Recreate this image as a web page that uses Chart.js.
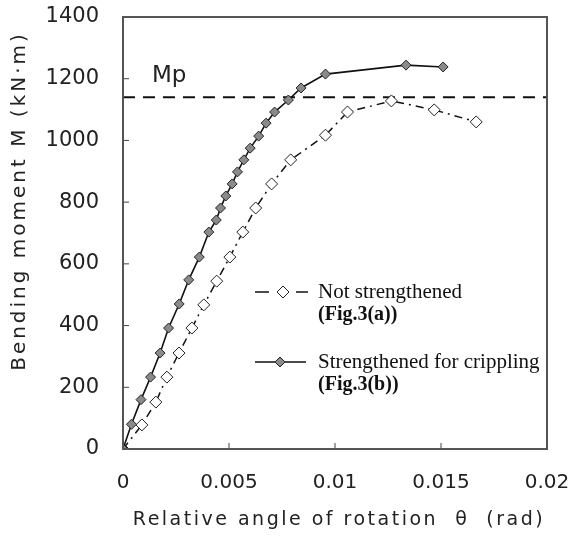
<!DOCTYPE html>
<html>
<head>
<meta charset="utf-8">
<script src="https://cdn.jsdelivr.net/npm/chart.js@4"></script>
<style>
  html, body { margin: 0; padding: 0; background: #fff; }
  #wrap { width: 582px; height: 544px; }
</style>
</head>
<body>
<div id="wrap"><canvas id="grafico"></canvas></div>
<script>
// dados
const thetaNot  = [0, 0.00089, 0.00155, 0.00207, 0.00264, 0.00325, 0.00381, 0.00442, 0.00504, 0.00565, 0.00626, 0.00701, 0.00791, 0.00955, 0.01059, 0.01266, 0.01468, 0.01666];
const momentNot = [0, 78, 152, 233, 311, 392, 467, 544, 622, 703, 781, 859, 937, 1017, 1092, 1128, 1099, 1060];

const thetaStr  = [0, 0.0004, 0.00085, 0.0013, 0.00175, 0.00215, 0.00265, 0.0031, 0.0036, 0.00405, 0.0044, 0.0046, 0.00485, 0.00515, 0.0054, 0.0057, 0.006, 0.0064, 0.00675, 0.00715, 0.0078, 0.0084, 0.00955, 0.01335, 0.0151];
const momentStr = [0, 80, 160, 233, 311, 392, 470, 548, 622, 703, 742, 781, 820, 859, 898, 937, 975, 1014, 1056, 1092, 1131, 1170, 1215, 1244, 1238];

const mpValue = 1140;   // momento plastico Mp
const xTicks = [0, 0.005, 0.01, 0.015, 0.02];
const yTicks = [0, 200, 400, 600, 800, 1000, 1200, 1400];

const legendLabels = [
  ['Not strengthened', '(Fig.3(a))'],
  ['Strengthened for crippling', '(Fig.3(b))']
];

const sans = 'DejaVu Sans';
const serif = 'Liberation Serif';

function pares(xs, ys) {
  return xs.map((x, i) => ({ x: x, y: ys[i] }));
}

// moldura, ticks internos, titulos e legenda
const extras = {
  id: 'extras',
  afterDraw(chart) {
    const ctx = chart.ctx;
    const a = chart.chartArea;
    const sx = chart.scales.x, sy = chart.scales.y;
    ctx.save();

    // ticks para dentro
    ctx.strokeStyle = '#444';
    ctx.lineWidth = 1;
    xTicks.slice(1, -1).forEach(v => {
      const px = sx.getPixelForValue(v);
      ctx.beginPath(); ctx.moveTo(px, a.bottom); ctx.lineTo(px, a.bottom - 6); ctx.stroke();
    });
    yTicks.slice(1, -1).forEach(v => {
      const py = sy.getPixelForValue(v);
      ctx.beginPath(); ctx.moveTo(a.left, py); ctx.lineTo(a.left + 6, py); ctx.stroke();
    });

    // moldura
    ctx.strokeStyle = '#555';
    ctx.lineWidth = 2;
    ctx.strokeRect(a.left, a.top, a.right - a.left, a.bottom - a.top);

    // Mp
    ctx.fillStyle = '#222';
    ctx.font = '23px "' + sans + '"';
    ctx.textAlign = 'left';
    ctx.textBaseline = 'middle';
    ctx.fillText('Mp', 152, 76);

    // titulo eixo Y
    ctx.save();
    ctx.translate(20, 201);
    ctx.rotate(-Math.PI / 2);
    ctx.textAlign = 'center';
    ctx.font = '20px "' + sans + '"';
    ctx.letterSpacing = '3px';
    ctx.fillText('Bending moment M (kN\u00b7m)', 0, 0);
    ctx.restore();

    // titulo eixo X
    ctx.save();
    ctx.textAlign = 'center';
    ctx.font = '19px "' + sans + '"';
    ctx.letterSpacing = '2.5px';
    ctx.fillText('Relative angle of rotation  \u03b8  (rad)', 339, 520);
    ctx.restore();

    // legenda
    const rows = [292, 362];
    const ds = chart.data.datasets;
    rows.forEach((y, i) => {
      ctx.strokeStyle = '#111';
      ctx.lineWidth = 1.5;
      if (i === 0) {
        ctx.beginPath(); ctx.moveTo(255, y); ctx.lineTo(269, y); ctx.stroke();
        ctx.beginPath(); ctx.moveTo(296, y); ctx.lineTo(308, y); ctx.stroke();
      } else {
        ctx.beginPath(); ctx.moveTo(255, y); ctx.lineTo(306, y); ctx.stroke();
      }
      const cx = i === 0 ? 283 : 280;
      const r = ds[i].pointRadius;
      ctx.beginPath();
      ctx.moveTo(cx, y - r); ctx.lineTo(cx + r, y); ctx.lineTo(cx, y + r); ctx.lineTo(cx - r, y); ctx.closePath();
      ctx.fillStyle = ds[i].pointBackgroundColor;
      ctx.fill();
      ctx.lineWidth = 1;
      ctx.strokeStyle = ds[i].pointBorderColor;
      ctx.stroke();

      ctx.fillStyle = '#111';
      ctx.textAlign = 'left';
      ctx.font = '21px "' + serif + '"';
      ctx.fillText(legendLabels[i][0], 318, y);
      ctx.font = 'bold 20px "' + serif + '"';
      ctx.fillText(legendLabels[i][1], 318, y + 23);
    });

    ctx.restore();
  }
};

function gerarGrafico() {
  const ctx = document.getElementById('grafico').getContext('2d');

  const data = {
    datasets: [
      {
        label: 'Not strengthened',
        data: pares(thetaNot, momentNot),
        borderColor: '#111',
        borderWidth: 1.5,
        borderDash: [8, 5, 2, 5],
        pointStyle: 'rectRot',
        pointRadius: 6,
        pointBackgroundColor: '#ffffff',
        pointBorderColor: '#222',
        pointBorderWidth: 1,
        showLine: true,
        order: 2
      },
      {
        label: 'Strengthened for crippling',
        data: pares(thetaStr, momentStr),
        borderColor: '#111',
        borderWidth: 1.6,
        pointStyle: 'rectRot',
        pointRadius: 5,
        pointBackgroundColor: '#8a8a8a',
        pointBorderColor: '#222',
        pointBorderWidth: 1,
        showLine: true,
        order: 1
      },
      {
        label: 'Mp',
        data: [{ x: 0, y: mpValue }, { x: 0.02, y: mpValue }],
        borderColor: '#111',
        borderWidth: 2,
        borderDash: [12, 8],
        pointRadius: 0,
        showLine: true,
        order: 3
      }
    ]
  };

  const options = {
    responsive: true,
    maintainAspectRatio: false,
    animation: false,
    layout: { padding: { top: 17, right: 35, left: 0, bottom: 0 } },
    plugins: {
      legend: { display: false },
      tooltip: { enabled: false }
    },
    scales: {
      x: {
        type: 'linear',
        min: 0,
        max: 0.02,
        afterFit: s => { s.height = 95; s.paddingLeft = 0; s.paddingRight = 0; },
        afterBuildTicks: s => { s.ticks = xTicks.map(v => ({ value: v })); },
        grid: { display: false, drawTicks: false },
        border: { display: false },
        ticks: {
          padding: 22,
          color: '#222',
          font: { family: sans, size: 20 },
          callback: v => String(v)
        }
      },
      y: {
        min: 0,
        max: 1400,
        afterFit: s => { s.width = 123; s.paddingTop = 0; s.paddingBottom = 0; },
        afterBuildTicks: s => { s.ticks = yTicks.map(v => ({ value: v })); },
        grid: { display: false, drawTicks: false },
        border: { display: false },
        ticks: {
          padding: 24,
          color: '#222',
          font: { family: sans, size: 21 },
          callback: v => String(v)
        }
      }
    }
  };

  new Chart(ctx, {
    type: 'scatter',
    data: data,
    options: options,
    plugins: [extras]
  });
}

gerarGrafico();
</script>
</body>
</html>
